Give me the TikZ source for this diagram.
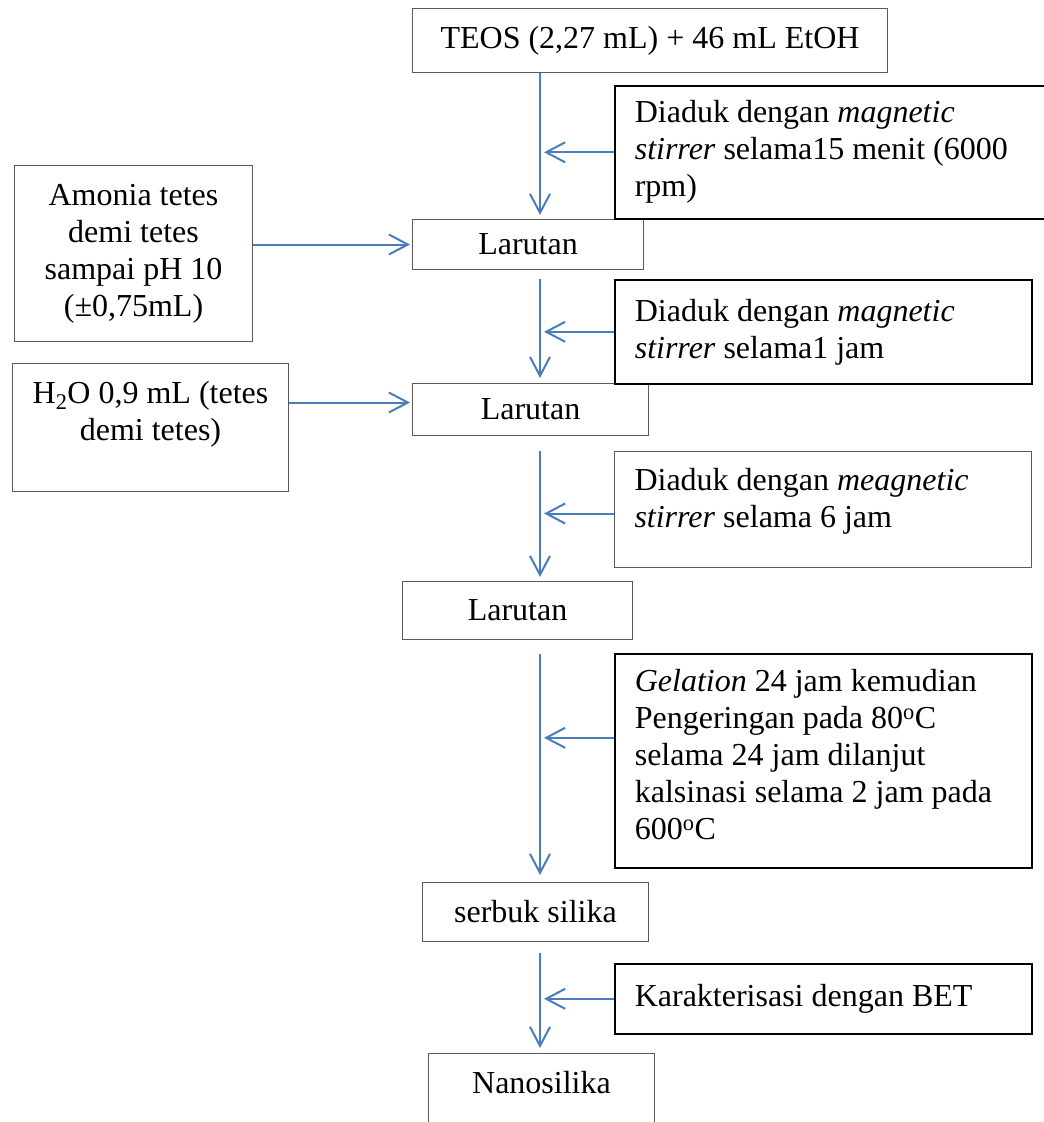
\documentclass[tikz,border=0pt]{standalone}
\usepackage{fontspec}
\setmainfont{Liberation Serif}
\usepackage{tikz}
\usetikzlibrary{arrows.meta, positioning, calc}

\definecolor{flowblue}{RGB}{74,126,187}

\begin{document}
\begin{tikzpicture}[x=1pt, y=-1pt,
    box/.style={draw, font=\fontsize{32}{37}\selectfont, inner sep=0pt, anchor=north west},
    plain/.style={box, draw=black!65, line width=1pt, align=center},
    note/.style={box, draw=black, line width=1.6pt, align=flush left, inner xsep=20pt, text width=377pt},
    flow/.style={draw=flowblue, line width=2pt, -{Straight Barb[length=19pt, width=20pt]}},]

\useasboundingbox (0,0) rectangle (1044,1122);
\clip (0,0) rectangle (1044,1122);

% main column
\coordinate (spine) at (540,0);
\node[plain, minimum width=475pt, minimum height=64pt] (teos) at (412,8) {TEOS (2,27 mL) + 46 mL EtOH};
\node[plain, minimum width=231pt, minimum height=50pt] (lar1) at (412,219) {Larutan};
\node[plain, minimum width=236pt, minimum height=52pt] (lar2) at (412,383) {Larutan};
\node[plain, minimum width=230pt, minimum height=58pt] (lar3) at (402,581) {Larutan};
\node[plain, minimum width=226pt, minimum height=59pt] (serbuk) at (422,882) {serbuk silika};
\node[plain, minimum width=226pt, minimum height=100pt, text depth=42pt] (nano) at (428,1053) {Nanosilika};

% added from the left
\node[plain, minimum width=238pt, minimum height=176pt] (amonia) at (14,165) {Amonia tetes\\ demi tetes\\ sampai pH 10\\ (±0,75mL)};
\node[plain, minimum width=276pt, minimum height=128pt, text depth=33pt] (air) at (12,363) {H\textsubscript{2}O 0,9 mL (tetes\\ demi tetes)};
\coordinate (lar2in) at ([yshift=7pt]lar2.west);

% treatment steps on the right
\node[note, text width=416pt, minimum height=133pt] (aduk1) at (614,85) {Diaduk dengan \textit{magnetic}\\ \textit{stirrer} selama15 menit (6000\\ rpm)};
\node[note, minimum height=104pt] (aduk2) at (614,279) {Diaduk dengan \textit{magnetic}\\ \textit{stirrer} selama1 jam};
\node[note, draw=black!65, line width=1pt, minimum height=116pt, text depth=60pt] (aduk3) at (614,451) {Diaduk dengan \textit{meagnetic}\\ \textit{stirrer} selama 6 jam};
\node[note, minimum height=214pt, text depth=160pt] (gel) at (614,653) {\textit{Gelation} 24 jam kemudian\\ Pengeringan pada 80\textsuperscript{o}C\\ selama 24 jam dilanjut\\ kalsinasi selama 2 jam pada\\ 600\textsuperscript{o}C};
\node[note, minimum height=70pt] (bet) at (614,963) {Karakterisasi dengan BET};
\coordinate (aduk3out) at ([yshift=-4pt]aduk3.west);
\coordinate (gelout) at ([yshift=23pt]gel.west);

% vertical flow
\draw[flow, shorten >=4pt] (teos.south -| spine) -- (lar1.north -| spine);
\draw[flow, shorten <=9pt, shorten >=5pt] (lar1.south -| spine) -- (lar2.north -| spine);
\draw[flow, shorten <=15pt, shorten >=4pt] (lar2.south -| spine) -- (lar3.north -| spine);
\draw[flow, shorten <=14pt, shorten >=7pt] (lar3.south -| spine) -- (serbuk.north -| spine);
\draw[flow, shorten <=11pt, shorten >=5pt] (serbuk.south -| spine) -- (nano.north -| spine);

% side inputs
\draw[flow, shorten >=2pt] (amonia.east |- lar1.west) -- (lar1.west);
\draw[flow, shorten >=2pt] (air.east |- lar2in) -- (lar2in);
\draw[flow] (aduk1.west) -- ([xshift=4pt]aduk1.west -| spine);
\draw[flow] (aduk2.west) -- ([xshift=4pt]aduk2.west -| spine);
\draw[flow] (aduk3out) -- ([xshift=4pt]aduk3out -| spine);
\draw[flow] (gelout) -- ([xshift=4pt]gelout -| spine);
\draw[flow] (bet.west) -- ([xshift=4pt]bet.west -| spine);

\end{tikzpicture}
\end{document}
